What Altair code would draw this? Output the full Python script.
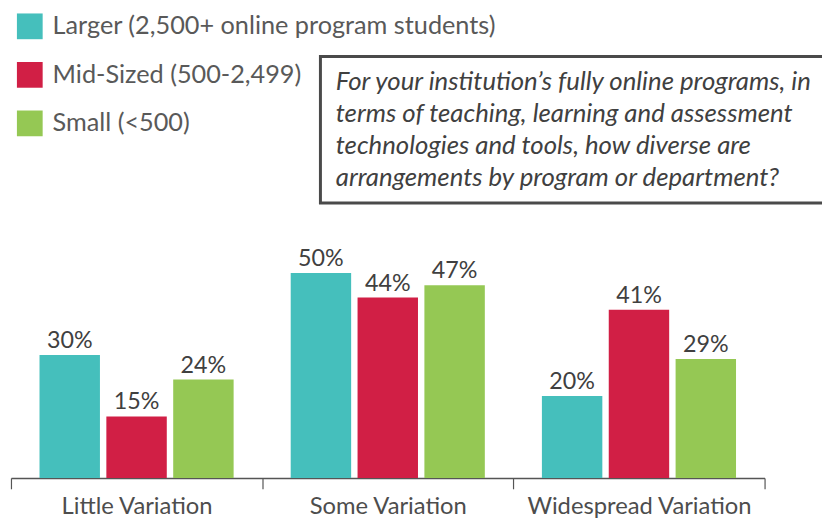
import altair as alt
import pandas as pd

categories = ["Little Variation", "Some Variation", "Widespread Variation"]
series = ["Larger (2,500+ online program students)", "Mid-Sized (500-2,499)", "Small (<500)"]
colors = ["#45BFBC", "#D11F45", "#95C854"]
larger = [30, 50, 20]
mid_sized = [15, 44, 41]
small = [24, 47, 29]
question = [
    "For your institution\u2019s fully online programs, in",
    "terms of teaching, learning and assessment",
    "technologies and tools, how diverse are",
    "arrangements by program or department?",
]

rows = []
for s, vals in zip(series, [larger, mid_sized, small]):
    for c, v in zip(categories, vals):
        rows.append({"category": c, "series": s, "value": v, "label": f"{v}%"})
df = pd.DataFrame(rows)

x_enc = alt.X(
    "category:N",
    sort=categories,
    title=None,
    scale=alt.Scale(paddingInner=0, paddingOuter=0),
    axis=alt.Axis(
        labelAngle=0, tickBand="extent", tickSize=11, tickColor="#555555",
        domainColor="#555555", domainWidth=1.5, tickWidth=1.2,
        labelFont="Lato", labelFontSize=24, labelColor="#4d4d4d",
        labelPadding=25, labelBaseline="alphabetic", labelLimit=400,
    ),
)
xo_enc = alt.XOffset("series:N", sort=series,
                     scale=alt.Scale(paddingInner=0.096, paddingOuter=0.427))
y_enc = alt.Y("value:Q", scale=alt.Scale(domain=[0, 114], nice=False, zero=True), axis=None)

bars = alt.Chart(df).mark_bar().encode(
    x=x_enc, xOffset=xo_enc, y=y_enc,
    color=alt.Color(
        "series:N", sort=series,
        scale=alt.Scale(domain=series, range=colors),
        legend=alt.Legend(
            orient="none", legendX=6, legendY=3, title=None,
            symbolType="square", symbolSize=676, symbolStrokeWidth=0,
            symbolOpacity=1, labelFont="Lato", labelFontSize=25.5,
            labelColor="#595959", rowPadding=22, labelOffset=10,
            padding=0, labelLimit=600,
        ),
    ),
)

labels = alt.Chart(df).mark_text(
    dy=-7, baseline="alphabetic", font="Lato", fontSize=23.5, color="#404040"
).encode(x=x_enc, xOffset=xo_enc, y=y_enc, text="label:N")

one = pd.DataFrame({"a": [0]})
box = alt.Chart(one).mark_rect(fillOpacity=0, stroke="#4a4a4a", strokeWidth=3).encode(
    x=alt.value(312.5), x2=alt.value(840), y=alt.value(46.5), y2=alt.value(194.5)
)
qtext = alt.Chart(one).mark_text(
    text=question, align="left", baseline="alphabetic", font="Lato",
    fontStyle="italic", fontSize=26, color="#404040", lineHeight=32.3,
).encode(x=alt.value(328), y=alt.value(80))

chart = alt.layer(bars, labels, box, qtext).properties(
    width=761, height=472, autosize="none",
    padding={"left": 3, "top": 0, "right": 58, "bottom": 40},
).configure_view(stroke=None)

chart.save("out.html", embed_options={"renderer": "svg", "actions": False})
